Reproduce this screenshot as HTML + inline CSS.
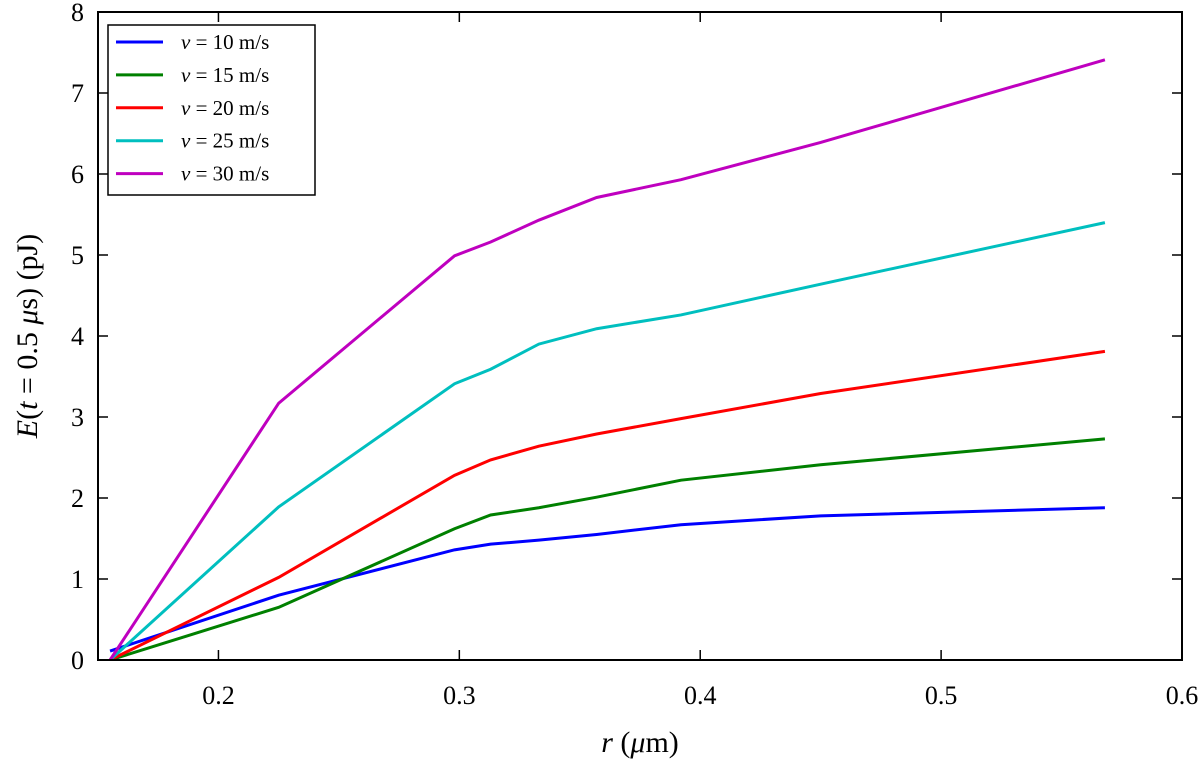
<!DOCTYPE html>
<html><head><meta charset="utf-8"><style>
body{margin:0;background:#fff}
svg text{font-family:"Liberation Serif",serif;fill:#000}
</style></head><body>
<svg id="chart" width="1200" height="762" xmlns="http://www.w3.org/2000/svg"></svg>
<script>
const radii=[0.155,0.225,0.298,0.313,0.333,0.357,0.392,0.45,0.568];
const v10=[0.11,0.8,1.36,1.43,1.48,1.55,1.67,1.78,1.88];
const v15=[0,0.65,1.62,1.79,1.88,2.01,2.22,2.41,2.73];
const v20=[0,1.02,2.28,2.47,2.64,2.79,2.98,3.29,3.81];
const v25=[0,1.89,3.41,3.59,3.90,4.09,4.26,4.64,5.40];
const v30=[0,3.17,4.99,5.16,5.43,5.71,5.93,6.39,7.41];
const seriesLabels=["10","15","20","25","30"];
const xTicks=[0.2,0.3,0.4,0.5,0.6];
const yTicks=[0,1,2,3,4,5,6,7,8];
const colors=["#0000ff","#008000","#ff0000","#00bfbf","#bf00bf"];
const series=[v10,v15,v20,v25,v30];
const L=98,R=1182,T=12,B=660;
const xs=r=>L+(r-0.15)/(0.6-0.15)*(R-L);
const ys=e=>B-e/8*(B-T);
const svg=document.getElementById('chart');
const NS='http://www.w3.org/2000/svg';
function mk(tag,attrs,parent){const e=document.createElementNS(NS,tag);for(const k in attrs)e.setAttribute(k,attrs[k]);(parent||svg).appendChild(e);return e;}
const clip=mk('clipPath',{id:'pc'});mk('rect',{x:L,y:T,width:R-L,height:B-T},clip);
series.forEach((s,i)=>{
 const p=mk('polyline',{points:s.map((v,j)=>xs(radii[j])+','+ys(v)).join(' '),fill:'none',stroke:colors[i],'stroke-width':3,'clip-path':'url(#pc)'});
 
 
});
const frame=mk('rect',{x:L,y:T,width:R-L,height:B-T,fill:'none',stroke:'#000','stroke-width':2});


xTicks.forEach(t=>{
 const x=xs(t);
 mk('line',{x1:x,x2:x,y1:B,y2:B-10,stroke:'#000','stroke-width':1.5});
 mk('line',{x1:x,x2:x,y1:T,y2:T+10,stroke:'#000','stroke-width':1.5});
 const tx=mk('text',{x:x,y:B+44,'text-anchor':'middle','font-size':26});
 tx.textContent=t.toFixed(1);
 
 
});
yTicks.forEach(t=>{
 const y=ys(t);
 mk('line',{x1:L,x2:L+10,y1:y,y2:y,stroke:'#000','stroke-width':1.5});
 mk('line',{x1:R,x2:R-10,y1:y,y2:y,stroke:'#000','stroke-width':1.5});
 const tx=mk('text',{x:L-14,y:y+9,'text-anchor':'end','font-size':26});
 tx.textContent=t;
 
 
});
const xt=mk('text',{x:640,y:752,'text-anchor':'middle','font-size':30});
xt.innerHTML='<tspan font-style="italic">r</tspan> (<tspan font-style="italic">μ</tspan>m)';


const yt=mk('text',{x:0,y:0,'text-anchor':'middle','font-size':30,transform:'translate(37,336) rotate(-90)'});
yt.innerHTML='<tspan font-style="italic">E</tspan>(<tspan font-style="italic">t</tspan> = 0.5 <tspan font-style="italic">μ</tspan>s) (pJ)';


const lg=mk('g',{});


mk('rect',{x:108,y:25,width:207,height:170,fill:'#fff',stroke:'#000','stroke-width':1.5},lg);
seriesLabels.forEach((s,i)=>{
 const y=42+i*32.9;
 const ln=mk('line',{x1:116,x2:163,y1:y,y2:y,stroke:colors[i],'stroke-width':3},lg);
 
 
 const tx=mk('text',{x:181,y:y+7,'font-size':21},lg);
 tx.innerHTML='<tspan font-style="italic">v</tspan> = '+s+' m/s';
 
 
});
</script>
</body></html>
